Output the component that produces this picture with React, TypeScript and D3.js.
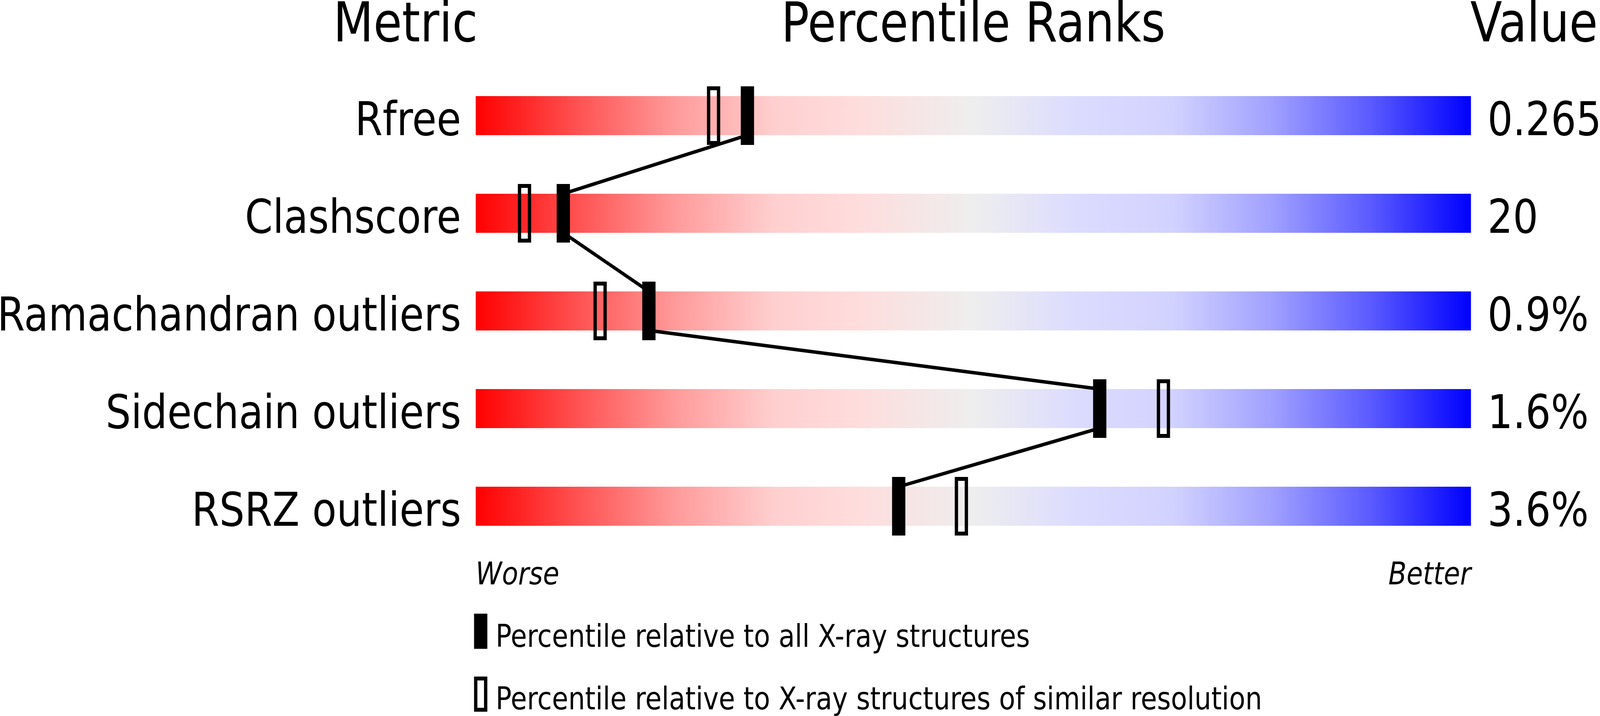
import React from "react";
import { scaleLinear, scalePoint, pairs } from "d3";

const metrics = [
  "Rfree",
  "Clashscore",
  "Ramachandran outliers",
  "Sidechain outliers",
  "RSRZ outliers",
];
const values = ["0.265", "20", "0.9%", "1.6%", "3.6%"];
// percentile relative to all X-ray structures (filled marker)
const pctAll = [27.3, 8.8, 17.4, 62.7, 42.5];
// percentile relative to structures of similar resolution (open marker)
const pctSimilar = [23.9, 4.9, 12.5, 69.1, 48.8];

const gradOffsets = [0, 0.1, 0.2, 0.3, 0.38, 0.5, 0.6, 0.7, 0.8, 0.9, 1];
const gradColors = [
  "#ff0000",
  "#ff5050",
  "#ff9a9a",
  "#ffcfcf",
  "#ffdcdc",
  "#eeeeee",
  "#dcdcff",
  "#d2d2ff",
  "#a0a0ff",
  "#5a5aff",
  "#0000ff",
];

const legendLabels = [
  "Percentile relative to all X-ray structures",
  "Percentile relative to X-ray structures of similar resolution",
];

const width = 4823;
const height = 1833;
const barLeft = 1434;
const barRight = 4434;
const barH = 100;
const markW = 40;
const markH = 150;
const font = "'DejaVu Sans', sans-serif";

export default function App() {
  React.useEffect(() => {
    document.body.style.margin = "0";
    document.body.style.overflow = "hidden";
  }, []);

  const x = scaleLinear().domain([0, 100]).range([barLeft, barRight]);
  const y = scalePoint<string>().domain(metrics).range([296, 1296]);

  const rows = metrics.map((m, i) => ({
    name: m,
    value: values[i],
    cy: y(m) as number,
    all: x(pctAll[i]),
    similar: x(pctSimilar[i]),
  }));

  const links = pairs(rows);

  // the page viewport is not exactly 4823x1833, so stretch the drawing to fill it
  return (
    <svg
      viewBox={`0 0 ${width} ${height}`}
      preserveAspectRatio="none"
      style={{ display: "block", width: "100vw", height: "100vh", background: "#fff" }}
      fontFamily={font}
    >
      <defs>
        <linearGradient
          id="slider"
          gradientUnits="userSpaceOnUse"
          x1={barLeft}
          x2={barRight}
          y1={0}
          y2={0}
        >
          {gradOffsets.map((o, i) => (
            <stop key={i} offset={o} stopColor={gradColors[i]} />
          ))}
        </linearGradient>
      </defs>

      {/* headers */}
      <text x={1440} y={106} fontSize={140} textAnchor="end">
        Metric
      </text>
      <text x={(barLeft + barRight) / 2} y={106} fontSize={140} textAnchor="middle">
        Percentile Ranks
      </text>
      <text x={4432} y={106} fontSize={140}>
        Value
      </text>

      {rows.map((r) => (
        <g key={r.name}>
          <rect
            x={barLeft}
            y={r.cy - barH / 2}
            width={barRight - barLeft}
            height={barH}
            fill="url(#slider)"
          />
          <text x={1390} y={r.cy + barH / 2} fontSize={120} textAnchor="end">
            {r.name}
          </text>
          <text x={4484} y={r.cy + barH / 2} fontSize={120}>
            {r.value}
          </text>
        </g>
      ))}

      {links.map(([a, b], i) => (
        <line
          key={i}
          x1={a.all}
          y1={a.cy + barH / 2}
          x2={b.all}
          y2={b.cy - barH / 2}
          stroke="#000"
          strokeWidth={9}
        />
      ))}

      {rows.map((r) => (
        <g key={r.name + "-m"}>
          <rect
            x={r.similar - markW / 2 + 5}
            y={r.cy - markH / 2 + 5}
            width={markW - 10}
            height={markH - 10}
            fill="none"
            stroke="#000"
            strokeWidth={10}
          />
          <rect
            x={r.all - markW / 2}
            y={r.cy - markH / 2}
            width={markW}
            height={markH}
            fill="#000"
          />
        </g>
      ))}

      {/* axis ends */}
      <text x={barLeft} y={1496} fontSize={80} fontStyle="italic">
        Worse
      </text>
      <text x={barRight} y={1496} fontSize={80} fontStyle="italic" textAnchor="end">
        Better
      </text>

      {/* legend */}
      <rect x={1429} y={1571} width={40} height={90} fill="#000" />
      <text x={1494} y={1656} fontSize={80}>
        {legendLabels[0]}
      </text>
      <rect
        x={1434}
        y={1737}
        width={30}
        height={80}
        fill="none"
        stroke="#000"
        strokeWidth={10}
      />
      <text x={1494} y={1816} fontSize={80}>
        {legendLabels[1]}
      </text>
    </svg>
  );
}
